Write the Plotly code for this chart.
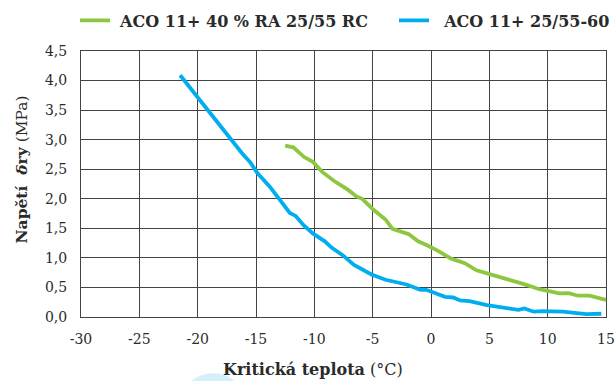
import plotly.graph_objects as go

# ---- data ----
temp_rc = [-12.5, -11.8, -10.9, -10.1, -9.3, -8.3, -7.1, -6.4, -5.9, -4.9, -3.9, -3.3,
           -1.9, -1.1, -0.3, 0.6, 1.7, 2.9, 3.9, 5.0, 6.5, 7.9, 9.3, 11.0, 11.8, 12.6,
           13.6, 15.0]
stress_rc = [2.90, 2.87, 2.71, 2.62, 2.45, 2.30, 2.15, 2.04, 2.00, 1.81, 1.65, 1.49,
             1.40, 1.28, 1.21, 1.12, 0.99, 0.91, 0.79, 0.72, 0.64, 0.56, 0.47, 0.40,
             0.405, 0.36, 0.36, 0.29]

temp_ref = [-21.5, -19.9, -18.1, -16.9, -16.2, -15.5, -14.9, -13.8, -12.9, -12.1, -11.6,
            -10.9, -10.1, -9.5, -9.1, -8.5, -7.6, -6.6, -5.1, -3.9, -3.2, -2.1, -0.9,
            -0.4, 1.2, 1.9, 2.5, 3.3, 4.8, 6.2, 7.5, 8.0, 8.8, 9.6, 11.3, 13.3, 14.6]
stress_ref = [4.09, 3.69, 3.24, 2.93, 2.77, 2.62, 2.44, 2.20, 1.96, 1.76, 1.71,
              1.55, 1.41, 1.33, 1.28, 1.17, 1.05, 0.88, 0.72, 0.63, 0.60, 0.55, 0.46,
              0.46, 0.34, 0.33, 0.28, 0.27, 0.20, 0.16, 0.12, 0.145, 0.09, 0.10, 0.09,
              0.05, 0.055]

series_names = ["ACO 11+ 40 % RA 25/55 RC", "ACO 11+ 25/55-60"]

x_tick_vals = [-30, -25, -20, -15, -10, -5, 0, 5, 10, 15]
x_tick_text = ["-30", "-25", "-20", "-15", "-10", "-5", "0", "5", "10", "15"]
y_tick_vals = [0, 0.5, 1.0, 1.5, 2.0, 2.5, 3.0, 3.5, 4.0, 4.5]
y_tick_text = ["0,0", "0,5", "1,0", "1,5", "2,0", "2,5", "3,0", "3,5", "4,0", "4,5"]

FONT = "'DejaVu Serif', serif"
GRID = "#444444"
TXT = "#2a2a2a"

fig = go.Figure()
fig.add_trace(go.Scatter(x=temp_rc, y=stress_rc, mode="lines",
                         name=" <b>" + series_names[0] + "</b>", legend="legend",
                         line=dict(color="#8DC63F", width=3.8)))
fig.add_trace(go.Scatter(x=temp_ref, y=stress_ref, mode="lines",
                         name="  <b>" + series_names[1] + "</b>", legend="legend2",
                         line=dict(color="#00AEEF", width=3.8)))

leg_common = dict(orientation="h", xanchor="left", y=1.115, yanchor="middle",
                  font=dict(family=FONT, size=16, color=TXT), bgcolor="rgba(0,0,0,0)")

fig.update_layout(
    width=615, height=381,
    margin=dict(l=81, r=9, t=51, b=64, pad=0, autoexpand=False),
    plot_bgcolor="white", paper_bgcolor="white",
    font=dict(family=FONT, size=13, color=TXT),
    showlegend=True,
    legend=dict(x=-0.0114, **leg_common),
    legend2=dict(x=0.5962, **leg_common),
    xaxis=dict(range=[-30, 15], tickvals=x_tick_vals, ticktext=x_tick_text,
               showgrid=True, gridcolor=GRID, gridwidth=1, zeroline=False,
               showline=True, linecolor=GRID, linewidth=1, mirror=True,
               ticks="", tickfont=dict(family=FONT, size=14, color=TXT), ticklabelstandoff=9),
    yaxis=dict(range=[0, 4.5], tickvals=y_tick_vals, ticktext=y_tick_text,
               showgrid=True, gridcolor=GRID, gridwidth=1, zeroline=False,
               showline=True, linecolor=GRID, linewidth=1, mirror=True,
               ticks="", tickfont=dict(family=FONT, size=14, color=TXT), ticklabelstandoff=10),
    annotations=[
        dict(text="<b>Napětí  <i>δ</i>ry</b> (MPa)", textangle=-90, xref="paper", yref="paper",
             x=-0.113, y=0.553, xanchor="center", yanchor="middle", showarrow=False,
             font=dict(family=FONT, size=15.5, color=TXT)),
        dict(text="<b>Kritická teplota</b> (°C)", xref="paper", yref="paper",
             x=0.442, y=-0.199, xanchor="center", yanchor="middle", showarrow=False,
             font=dict(family=FONT, size=16, color=TXT)),
    ],
    shapes=[
        dict(type="circle", xref="paper", yref="paper",
             x0=(180 - 81) / 525, x1=(246 - 81) / 525,
             y0=(317 - 373) / 266, y1=(317 - 439) / 266,
             fillcolor="#d6f0fb", line=dict(width=0), layer="below"),
    ],
)

fig.write_html("out.html")
